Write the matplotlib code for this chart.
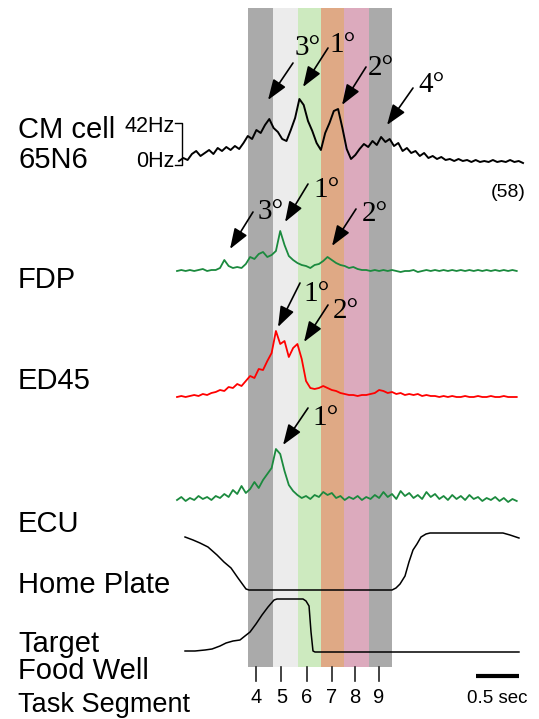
import numpy as np
import matplotlib
matplotlib.use('Agg')
import matplotlib.pyplot as plt

plt.rcParams['font.family'] = ['Liberation Sans', 'DejaVu Sans']

# ---------------------------------------------------------------------------
# Data
# ---------------------------------------------------------------------------
segment_labels = ['4', '5', '6', '7', '8', '9']
segment_edges = [0.80, 1.09, 1.38, 1.65, 1.915, 2.21, 2.48]      # sec
segment_ticks = [0.90, 1.19, 1.485, 1.775, 2.045, 2.32]           # sec
segment_colors = ['#aaaaaa', '#ececec', '#cdeabf', '#dfa985', '#dcaabd', '#aaaaaa']

DT = 0.05  # sampling step of the traces (sec)

# CM cell 65N6 firing rate (Hz), starts at t = 0
cm_hz = [4, 7, 5, 11, 14, 9, 12, 15, 11, 17,
         14, 18, 15, 19, 16, 22, 29, 26, 35, 32,
         40, 46, 37, 33, 26, 24, 35, 47, 66, 60,
         44, 34, 22, 15, 32, 42, 54, 56, 37, 16,
         6, 10, 16, 21, 18, 24, 20, 28, 23, 26,
         19, 22, 14, 17, 12, 14, 9, 12, 7, 9,
         6, 8, 5, 6, 4, 6, 4, 5, 3, 5,
         3, 4, 3, 5, 3, 4, 3, 5, 3, 4, 2]

# EMG averages (arbitrary units), start at t = -0.023
fdp = [0, 1, 0, 1, 0, 1, 2, 0, 1, 1,
       3, 11, 5, 3, 4, 3, 7, 14, 12, 17,
       19, 14, 16, 20, 40, 26, 15, 11, 8, 6,
       5, 3, 6, 7, 10, 14, 11, 8, 6, 5,
       3, 4, 2, 1, 1, 0, 1, 0, 1, 0,
       1, 0, -1, 0, 0, 1, -1, 0, 1, 0,
       1, 0, 1, 0, 1, 0, 1, 0, 1, 0,
       1, 0, 1, 0, 1, 0, 1, 0, 1, 0]

ed45 = [0, 1, 0, 1, 2, 1, 3, 2, 4, 5,
        7, 6, 10, 9, 13, 11, 16, 21, 19, 28,
        27, 36, 44, 66, 53, 56, 40, 49, 53, 38,
        16, 9, 8, 9, 11, 9, 7, 6, 4, 3,
        2, 2, 1, 2, 2, 3, 4, 7, 6, 4,
        5, 3, 4, 2, 3, 2, 3, 1, 2, 1,
        1, 0, 1, 0, 1, 0, 0, 1, 0, 0,
        1, 0, 0, 1, 0, 0, 1, 0, 0, 0]

ecu = [1, 4, 0, 3, 1, 5, 2, 4, 1, 5,
       3, 7, 4, 11, 7, 15, 8, 12, 19, 13,
       21, 27, 33, 52, 47, 30, 16, 10, 6, 3,
       5, 2, 6, 4, 9, 6, 8, 3, 5, 1,
       4, 2, 5, 1, 4, 2, 6, 3, 9, 4,
       7, 2, 10, 5, 8, 3, 6, 2, 9, 4,
       7, 2, 5, 1, 6, 2, 5, 1, 6, 2,
       4, 0, 3, 1, 4, 0, 3, -1, 2, 0]

# Home plate / target food well position signals
home_t = [0.070, 0.163, 0.244, 0.337, 0.442, 0.523, 0.605, 0.686, 0.779, 0.814,
          2.477, 2.523, 2.570, 2.628, 2.674, 2.721, 2.767, 2.814, 2.872, 2.919,
          3.767, 3.849, 3.953]
home_v = [53, 50, 47, 43, 35, 28, 22, 12, 1, 0,
          0, 2, 6, 14, 28, 40, 46, 53, 56, 57,
          57, 55, 52]

target_t = [0.070, 0.186, 0.302, 0.384, 0.477, 0.547, 0.628, 0.709, 0.767, 0.826,
            0.895, 0.965, 1.035, 1.105, 1.140, 1.442, 1.477, 1.512, 1.535, 1.558,
            1.581, 3.953]
target_v = [1, 1, 2, 3, 6, 9, 11, 12, 16, 20,
            28, 37, 45, 52, 53, 53, 51, 46, 20, 1,
            0, 0]

# ---------------------------------------------------------------------------
# Layout (figure pixels)
# ---------------------------------------------------------------------------
W, H = 539, 719
PX_PER_SEC = 86
X_ORIGIN = 179          # pixel column of t = 0


def sx(px):
    return (px - X_ORIGIN) / PX_PER_SEC


GREEN = '#1b8a3e'
SERIF = ['Liberation Serif', 'DejaVu Serif']

fig = plt.figure(figsize=(W / 100, H / 100), dpi=100)
ax = fig.add_axes([0, 0, 1, 1])
ax.set_xlim(sx(0), sx(W))
ax.set_ylim(H, 0)
ax.axis('off')

# task segment bands
for x0, x1, c in zip(segment_edges[:-1], segment_edges[1:], segment_colors):
    ax.fill_betweenx([8, 667], x0, x1, color=c, lw=0, zorder=0)


# traces
def trace(values, t0, base, scale, **kw):
    v = np.asarray(values, dtype=float)
    t = t0 + DT * np.arange(len(v))
    ax.plot(t, base - scale * v, zorder=3, **kw)


CM_BASE, CM_SCALE = 165, 1.0
trace(cm_hz, 0.0, CM_BASE, CM_SCALE, color='black', lw=1.4)
trace(fdp, -0.023, 271, 1.0, color=GREEN, lw=1.3)
trace(ed45, -0.023, 397, 1.0, color='red', lw=1.3)
trace(ecu, -0.023, 501, 1.0, color=GREEN, lw=1.3)
ax.plot(home_t, 590 - np.array(home_v), color='black', lw=1.1, zorder=3)
ax.plot(target_t, 652 - np.array(target_v), color='black', lw=1.1, zorder=3)

# Hz scale bracket
y42 = CM_BASE - 42 * CM_SCALE
ax.plot([sx(175), sx(182), sx(182), sx(175)], [y42, y42, CM_BASE, CM_BASE],
        color='black', lw=1.0)
ax.text(sx(175), 132, '42Hz', ha='right', va='baseline', fontsize=15.5)
ax.text(sx(175), 167, '0Hz', ha='right', va='baseline', fontsize=15.5)
ax.text(sx(526), 197, '(58)', ha='right', va='baseline', fontsize=14)

# left labels
labels = [('CM cell', 138, 21), ('65N6', 168, 21), ('FDP', 288, 21),
          ('ED45', 389, 21), ('ECU', 532, 21), ('Home Plate', 593, 21),
          ('Target', 652, 21), ('Food Well', 679, 21), ('Task Segment', 712, 19.5)]
for txt, yb, fs in labels:
    ax.text(sx(18), yb, txt, ha='left', va='baseline', fontsize=fs)

# annotations: label, text left, text baseline, arrow tail, arrow tip
annots = [('3°', 295, 55, (293, 63), (268, 100)),
          ('1°', 329, 52, (328, 48), (303, 87)),
          ('2°', 368, 75, (366, 67), (342, 105)),
          ('4°', 418, 92, (413, 88), (387, 125)),
          ('3°', 258, 219, (253, 212), (230, 249)),
          ('1°', 313, 197, (308, 184), (285, 222)),
          ('2°', 362, 221, (356, 209), (332, 246)),
          ('1°', 303, 301, (300, 283), (278, 327)),
          ('2°', 333, 318, (328, 305), (304, 342)),
          ('1°', 312, 425, (308, 408), (283, 445))]
for lab, xl, yb, tail, tip in annots:
    ax.text(sx(xl), yb, lab, ha='left', va='baseline', fontsize=21,
            family=SERIF, zorder=5)
    ax.annotate('', xy=(sx(tip[0]), tip[1]), xytext=(sx(tail[0]), tail[1]),
                arrowprops=dict(arrowstyle='-|>,head_length=1.25,head_width=0.45',
                                color='black', lw=1.2, shrinkA=0, shrinkB=0,
                                mutation_scale=10),
                zorder=5)

# segment ticks and labels
for t, lab in zip(segment_ticks, segment_labels):
    ax.plot([t, t], [667, 681], color='#222222', lw=1.2)
    ax.text(t, 703, lab, ha='center', va='baseline', fontsize=14.5)

# 0.5 sec scale bar
ax.plot([3.45, 3.95], [676, 676], color='black', lw=3, solid_capstyle='butt')
ax.text(3.70, 703, '0.5 sec', ha='center', va='baseline', fontsize=13.5)

fig.savefig('out.png', dpi=100)
